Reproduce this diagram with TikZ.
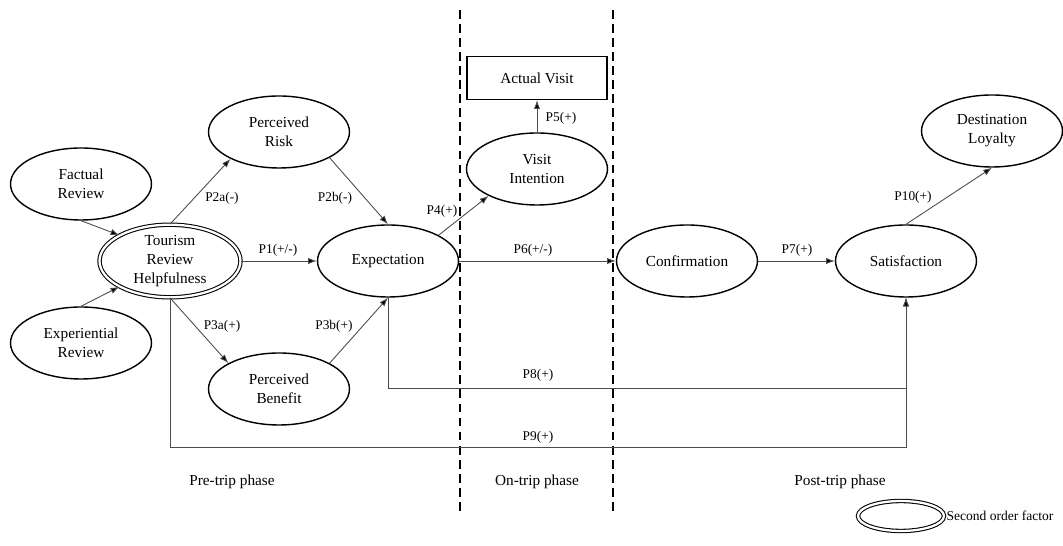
\documentclass[tikz,border=0pt]{standalone}
\usepackage{fontspec}
\setmainfont{Liberation Serif}
\usetikzlibrary{shapes.geometric,arrows.meta}

\begin{document}
\begin{tikzpicture}
[x=0.02cm,y=-0.02cm,
construct/.style={ellipse,draw=black,line width=0.8pt,minimum width=2.82cm,minimum height=1.44cm,inner sep=0pt,align=center,font=\fontsize{8.7}{10.8}\selectfont},
second/.style={construct,double,line width=0.6pt,double distance=1.3pt,minimum width=2.82cm,minimum height=1.38cm},
outcome/.style={rectangle,draw=black,line width=0.8pt,minimum width=2.8cm,minimum height=0.86cm,font=\fontsize{8.7}{10.8}\selectfont},
path/.style={draw=black!70,line width=0.5pt,-{Latex[length=5pt,width=3.6pt,fill=black]}},
plab/.style={font=\fontsize{7.6}{9}\selectfont,inner sep=1pt},
phase/.style={font=\fontsize{8.7}{10.8}\selectfont,inner sep=1pt},
divider/.style={line width=1.1pt,dash pattern=on 5pt off 3pt}]
\useasboundingbox (0,0) rectangle (1063,546);
% phases
\foreach \x in {460,613}
  \draw[divider] (\x,10) -- (\x,513);
% constructs
\node[construct] at (81,184) (fr) {Factual\\Review};
\node[construct] at (81,343) (er) {Experiential\\Review};
\node[second] at (170,261) (trh) {Tourism\\Review\\Helpfulness};
\node[construct] at (279,132) (pr) {Perceived\\Risk};
\node[construct] at (279,389) (pb) {Perceived\\Benefit};
\node[construct] at (388,261) (exp) {Expectation};
\node[construct] at (537,169) (vi) {Visit\\Intention};
\node[outcome] at (537,78) (av) {Actual Visit};
\node[construct] at (687,261) (conf) {Confirmation};
\node[construct] at (906,261) (sat) {Satisfaction};
\node[construct] at (992,131) (dl) {Destination\\Loyalty};
% paths
\draw[path] (fr.south) -- (trh.153);
\draw[path] (er.north) -- (trh.207);
\draw[path] (trh.north) -- (pr.209);
\draw[path] (trh.east) -- (exp.west);
\draw[path] (trh.south) -- (pb.153);
\draw[path] (pr.-27) -- (exp.north);
\draw[path] (pb.27) -- (exp.south);
\draw[path] (exp.27) -- (vi.209);
\draw[path] (vi.north) -- (av.south);
\draw[path] (exp.east) -- (conf.west);
\draw[path] (conf.east) -- (sat.west);
\draw[path] (sat.north) -- (dl.south);
\draw[path] (exp.south) -- ++(0,91) -| (sat.south);
\draw[path] (trh.south) -- ++(0,150) -| (sat.south);
% labels
\node[plab] at (222,198) (l2a) {P2a(-)};
\node[plab] at (335,198) (l2b) {P2b(-)};
\node[plab] at (278,250) (l1) {P1(+/-)};
\node[plab] at (222,326) (l3a) {P3a(+)};
\node[plab] at (334,326) (l3b) {P3b(+)};
\node[plab] at (442,211) (l4) {P4(+)};
\node[plab] at (561,118) (l5) {P5(+)};
\node[plab] at (533,250) (l6) {P6(+/-)};
\node[plab] at (797,250) (l7) {P7(+)};
\node[plab] at (913,197) (l10) {P10(+)};
\node[plab] at (538,375) (l8) {P8(+)};
\node[plab] at (538,437) (l9) {P9(+)};
\node[phase] at (232,482) (pre) {Pre-trip phase};
\node[phase] at (537,482) (on) {On-trip phase};
\node[phase] at (840,482) (post) {Post-trip phase};
% legend
\node[second,minimum width=1.72cm,minimum height=0.6cm] at (901,516) (key) {};
\node[plab,anchor=west,font=\fontsize{7.7}{9}\selectfont] at (key.east) (keytext) {Second order factor};
\end{tikzpicture}
\end{document}
